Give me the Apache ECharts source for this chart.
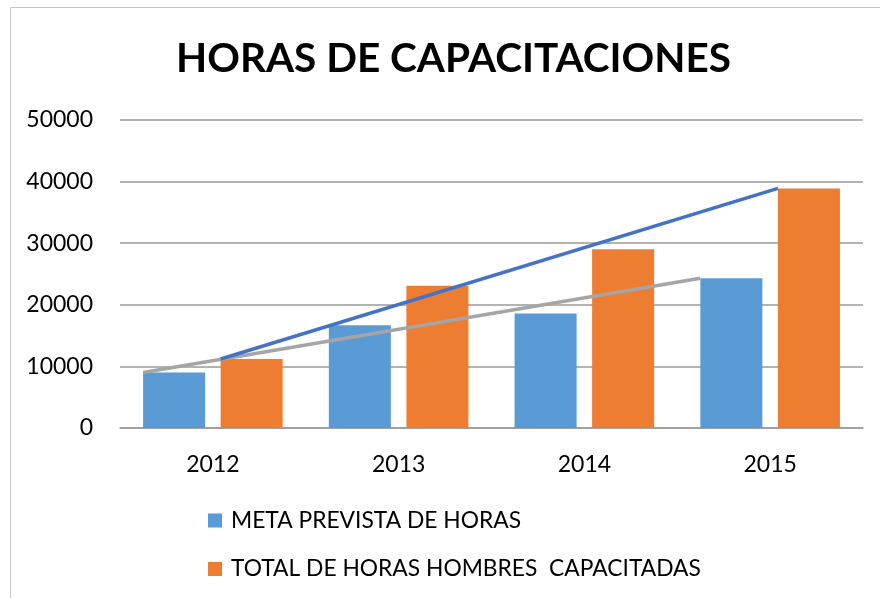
<!DOCTYPE html>
<html>
<head>
<meta charset="utf-8">
<style>
  html, body { margin: 0; padding: 0; background: #fff; }
  #chart { width: 880px; height: 598px; }
</style>
<script src="https://cdn.jsdelivr.net/npm/echarts@6/dist/echarts.min.js"></script>
</head>
<body>
<div id="chart"></div>
<script>
// Training hours per year
const years = ['2012', '2013', '2014', '2015'];
const metaPrevista = [9000, 16700, 18600, 24300];
const totalCapacitadas = [11200, 23100, 29000, 38900];
const yTicks = [0, 10000, 20000, 30000, 40000, 50000];

const seriesNames = ['META PREVISTA DE HORAS', 'TOTAL DE HORAS HOMBRES  CAPACITADAS'];

// bar geometry as fractions of a category band
const barFrac = 0.334;
const gapFrac = 0.25;
// left edge of each bar, relative to the category centre (in category units)
const groupWidth = barFrac * 2 + barFrac * gapFrac;
const blueLeft = -groupWidth / 2;
const orangeLeft = blueLeft + barFrac * (1 + gapFrac);

const last = years.length - 1;
const grayLine = [[0 + blueLeft, metaPrevista[0]], [last + blueLeft, metaPrevista[last]]];
const blueLine = [[0 + orangeLeft, totalCapacitadas[0]], [last + orangeLeft, totalCapacitadas[last]]];

const legendBase = {
  orient: 'vertical',
  left: 208,
  padding: 0,
  itemWidth: 14,
  itemHeight: 14,
  itemGap: 10,
  icon: 'rect',
  textStyle: { fontFamily: 'Lato', fontSize: 22.8, color: '#000', padding: [0, 0, 0, 4] }
};

const chart = echarts.init(document.getElementById('chart'));
chart.setOption({
  animation: false,
  backgroundColor: '#fff',
  graphic: [{
    type: 'rect',
    shape: { x: 10.5, y: 7.5, width: 900, height: 620 },
    style: { fill: 'none', stroke: '#c6c6c6', lineWidth: 1 },
    silent: true
  }],
  title: {
    text: 'HORAS DE CAPACITACIONES',
    left: 176,
    top: 38,
    padding: 0,
    textStyle: { fontFamily: 'Lato', fontWeight: 'bold', fontSize: 40.5, color: '#000' }
  },
  legend: [
    Object.assign({}, legendBase, { data: [seriesNames[0]], top: 509 }),
    Object.assign({}, legendBase, { data: [seriesNames[1]], top: 557.5 })
  ],
  grid: { left: 120, right: 17, top: 120, bottom: 170, containLabel: false },
  xAxis: [{
    type: 'category',
    data: years,
    axisLine: { lineStyle: { color: '#9a9a9a', width: 1.5 } },
    axisTick: { show: false },
    axisLabel: { fontFamily: 'Lato', fontSize: 23, color: '#000', margin: 25 }
  }, {
    type: 'value',
    min: -0.5,
    max: 3.5,
    show: false
  }],
  yAxis: {
    type: 'value',
    min: yTicks[0],
    max: yTicks[yTicks.length - 1],
    interval: yTicks[1] - yTicks[0],
    axisLine: { show: false },
    axisTick: { show: false },
    splitLine: { lineStyle: { color: '#9a9a9a', width: 1.5 } },
    axisLabel: {
      fontFamily: 'Lato', fontSize: 23, color: '#000', margin: 27,
      formatter: (v) => String(v)
    }
  },
  series: [{
    name: seriesNames[0],
    type: 'bar',
    data: metaPrevista,
    barWidth: (barFrac * 100) + '%',
    barGap: (gapFrac * 100) + '%',
    itemStyle: { color: '#5b9bd5' }
  }, {
    name: seriesNames[1],
    type: 'bar',
    data: totalCapacitadas,
    barWidth: (barFrac * 100) + '%',
    barGap: (gapFrac * 100) + '%',
    itemStyle: { color: '#ed7d31' }
  }, {
    name: 'meta-linea',
    type: 'line',
    xAxisIndex: 1,
    data: grayLine,
    symbol: 'none',
    lineStyle: { color: '#a5a5a5', width: 3.5 },
    z: 5
  }, {
    name: 'total-linea',
    type: 'line',
    xAxisIndex: 1,
    data: blueLine,
    symbol: 'none',
    lineStyle: { color: '#4472c4', width: 3.5 },
    z: 5
  }]
});
</script>
</body>
</html>
